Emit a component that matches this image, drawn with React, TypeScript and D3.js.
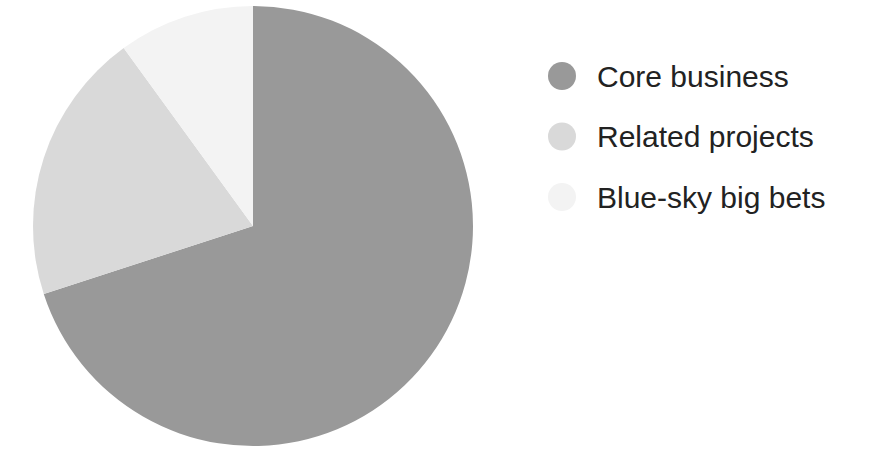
import * as d3 from 'd3'

const labels = ['Core business', 'Related projects', 'Blue-sky big bets']
const values = [70, 20, 10]
const colors = ['#999999', '#d9d9d9', '#f3f3f3']

export default function App() {
  const width = 882
  const height = 456
  const cx = 253
  const cy = 226
  const r = 220

  const arcs = d3.pie<number>().sort(null)(values)
  const arc = d3.arc<d3.PieArcDatum<number>>().innerRadius(0).outerRadius(r)

  return (
    <svg width={width} height={height} style={{ position: 'absolute', left: 0, top: 0 }}>
      <g transform={`translate(${cx},${cy})`}>
        {arcs.map((a, i) => (
          <path key={i} d={arc(a) || ''} fill={colors[i]} />
        ))}
      </g>
      {labels.map((l, i) => (
        <g key={l} transform={`translate(562,${76 + i * 60.5})`}>
          <circle r={14} fill={colors[i]} />
          <text x={35} y={0} dy="0.35em" fontFamily="'Liberation Sans', Arial, sans-serif" fontSize={30} fill="#222">
            {l}
          </text>
        </g>
      ))}
    </svg>
  )
}
